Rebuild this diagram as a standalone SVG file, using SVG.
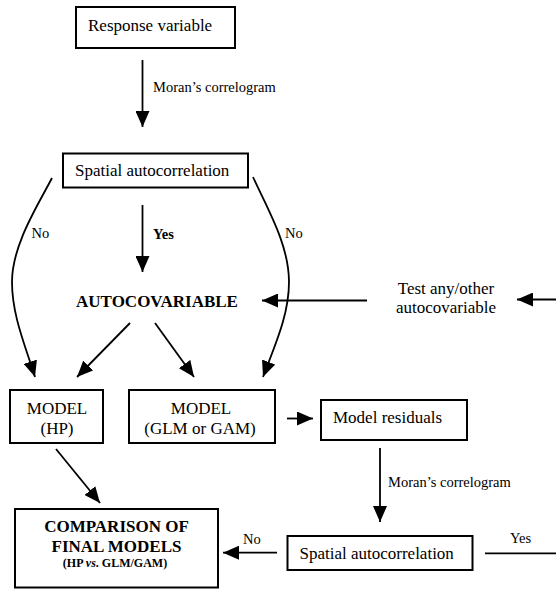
<svg xmlns="http://www.w3.org/2000/svg" width="556" height="589" viewBox="0 0 556 589" font-family="'Liberation Serif', 'Times New Roman', serif">
<defs>
<marker id="ah" markerWidth="16" markerHeight="14" refX="16" refY="7" orient="auto" markerUnits="userSpaceOnUse">
<path d="M0,0 L16,7 L0,14 z" fill="#000"/>
</marker>
</defs>
<style>
.box{fill:#fff;stroke:#000;stroke-width:2}
text{font-family:'Liberation Serif','Times New Roman',serif}
.t{font-size:17px;fill:#000}
.s{font-size:14.5px;fill:#000}
.x{font-size:12px;fill:#000}
.b{font-weight:bold}
.c{text-anchor:middle}
.ln{fill:none;stroke:#000;stroke-width:1.8}
.ar{fill:none;stroke:#000;stroke-width:1.8;marker-end:url(#ah)}
</style>
<rect width="556" height="589" fill="#fff"/>
<g id="connectors">
<line class="ar" x1="142.5" y1="60" x2="142.5" y2="127"/>
<line class="ar" x1="142.5" y1="205" x2="142.5" y2="272"/>
<path class="ar" d="M52,178 C38,205 12,245 12,282 C12,315 25,345 35,377"/>
<path class="ar" d="M253,177 C268,210 289,245 289,282 C289,315 275,345 263,377"/>
<line class="ar" x1="367" y1="300.5" x2="262" y2="300.5"/>
<line class="ar" x1="556" y1="299.5" x2="517" y2="299.5"/>
<line class="ar" x1="130" y1="323" x2="77" y2="377"/>
<line class="ar" x1="155" y1="323" x2="194" y2="377"/>
<line class="ar" x1="56" y1="449" x2="100" y2="503"/>
<line class="ar" x1="287" y1="418.5" x2="313" y2="418.5"/>
<line class="ar" x1="380" y1="448" x2="380" y2="522"/>
<line class="ar" x1="277" y1="552.7" x2="223" y2="552.7"/>
<line class="ln" x1="485" y1="553.3" x2="556" y2="553.3"/>
<text class="s" x="153" y="92">Moran’s correlogram</text>
<text class="s b" x="153" y="238.5">Yes</text>
<text class="s" x="31.5" y="237.5">No</text>
<text class="s" x="285" y="237.5">No</text>
<text class="s" x="388" y="487">Moran’s correlogram</text>
<text class="s" x="243" y="543.5">No</text>
<text class="s" x="510" y="543">Yes</text>
</g>
<g id="response">
<rect class="box" x="76" y="7" width="159" height="41"/>
<text class="t" x="88" y="30.5">Response variable</text>
</g>
<g id="spatial1">
<rect class="box" x="63" y="153.5" width="185" height="34"/>
<text class="t" x="75" y="176">Spatial autocorrelation</text>
</g>
<g id="autocov">
<text class="t b c" x="157" y="306.5">AUTOCOVARIABLE</text>
</g>
<g id="test">
<text class="t c" x="446" y="293.5">Test any/other</text>
<text class="t c" x="446" y="312.8">autocovariable</text>
</g>
<g id="modelHP">
<rect class="box" x="10" y="390" width="93" height="53"/>
<text class="t c" x="57" y="413.5">MODEL</text>
<text class="t c" x="57" y="434">(HP)</text>
</g>
<g id="modelGLM">
<rect class="box" x="129" y="390" width="146" height="53"/>
<text class="t c" x="201" y="413.5">MODEL</text>
<text class="t c" x="200" y="434">(GLM or GAM)</text>
</g>
<g id="residuals">
<rect class="box" x="321" y="400" width="146" height="40"/>
<text class="t" x="333" y="423">Model residuals</text>
</g>
<g id="spatial2">
<rect class="box" x="287.5" y="536" width="185" height="34"/>
<text class="t" x="299.5" y="558.5">Spatial autocorrelation</text>
</g>
<g id="comparison">
<rect class="box" x="15" y="509" width="203" height="78.5"/>
<text class="t b c" x="116.5" y="532">COMPARISON OF</text>
<text class="t b c" x="116.5" y="552">FINAL MODELS</text>
<text class="x b c" x="115" y="566.5">(HP <tspan font-style="italic">vs</tspan>. GLM/GAM)</text>
</g>
</svg>
